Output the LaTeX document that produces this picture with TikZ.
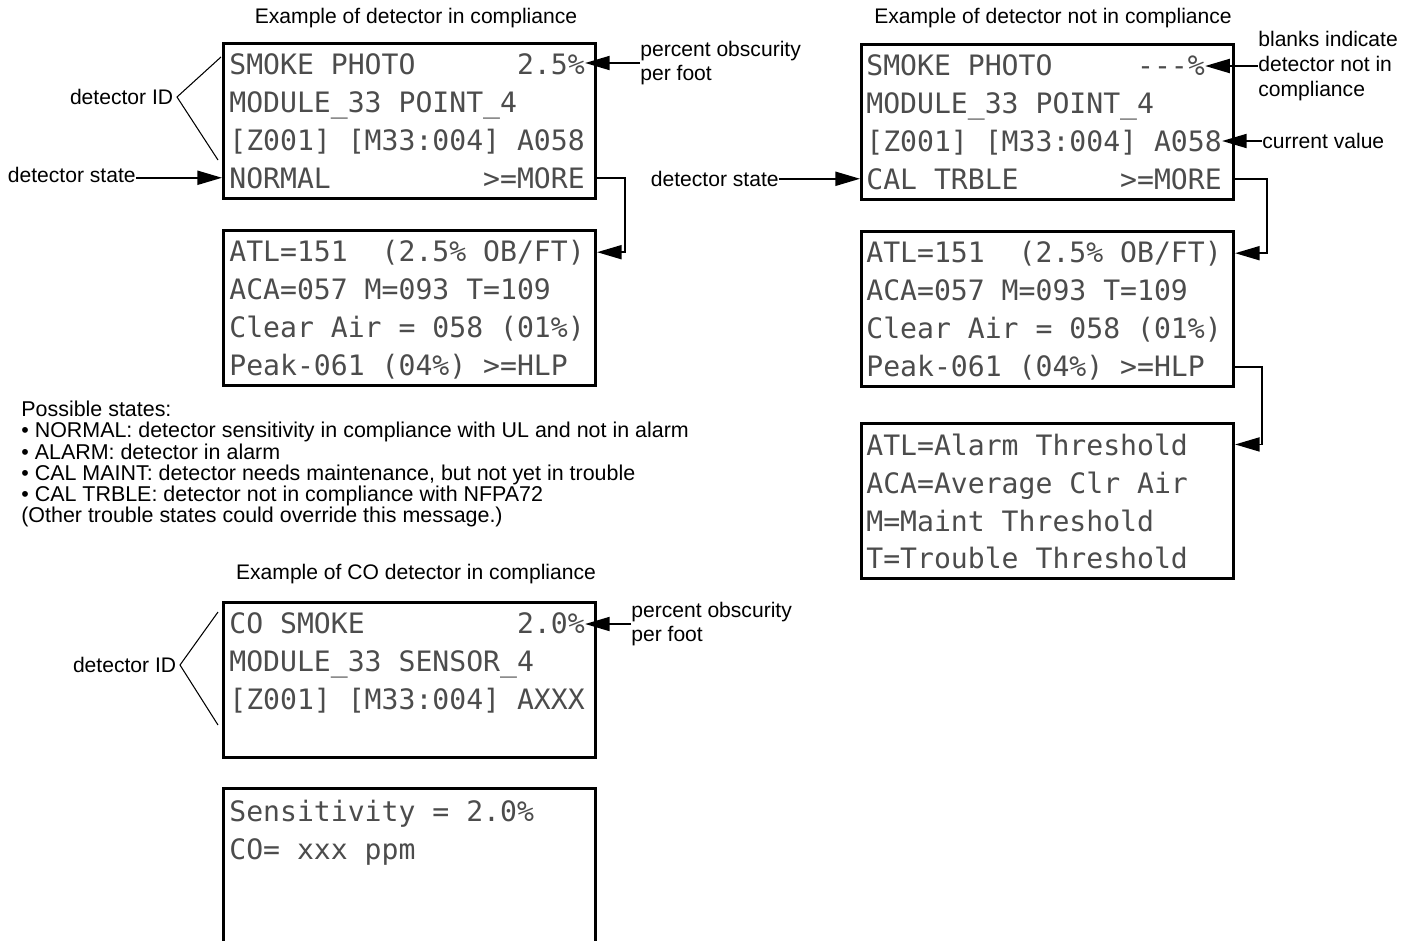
\documentclass[tikz,border=0pt]{standalone}
\usepackage{fontspec}
\setmainfont{Liberation Sans}
\newfontfamily\lcdfont{DejaVu Sans Mono}
\usetikzlibrary{arrows.meta}

\begin{document}
\begin{tikzpicture}[x=0.02cm,y=-0.02cm,
  screen/.style={draw,line width=1.8pt,anchor=north west,inner sep=0,minimum width=7.44cm,minimum height=3.1cm},
  lcd/.style={anchor=base west,inner sep=0,text=black!70,font=\lcdfont\fontsize{16}{16}\selectfont\frenchspacing},
  note/.style={inner sep=0,align=left,font=\fontsize{12}{13.5}\selectfont},
  link/.style={line width=1pt,-{Triangle[length=14pt,width=8pt]}},
  idline/.style={line width=0.6pt}]
  \useasboundingbox (0,0) rectangle (1420,940);
  \clip (0,0) rectangle (1420,940);

  % detector in compliance
  \node[note] (t1) at (416,18) {Example of detector in compliance};
  \node[screen] (s1) at (222,42) {};
  \node[lcd] (s1a) at (229,74) {SMOKE PHOTO~~~~~~2.5\%};
  \node[lcd] (s1b) at (229,112) {MODULE\_33 POINT\_4};
  \node[lcd] (s1c) at (229,150) {[Z001] [M33:004] A058};
  \node[lcd] (s1d) at (229,188) {NORMAL~~~~~~~~~>=MORE};
  \node[screen] (s2) at (222,229) {};
  \node[lcd] (s2a) at (229,261) {ATL=151~~(2.5\% OB/FT)};
  \node[lcd] (s2b) at (229,299) {ACA=057 M=093 T=109};
  \node[lcd] (s2c) at (229,337) {Clear Air = 058 (01\%)};
  \node[lcd] (s2d) at (229,375) {Peak-061 (04\%) >=HLP};

  \node[note,anchor=east,inner xsep=2pt] (id1) at (177,97) {detector ID};
  \node[note,anchor=east] (ds1) at (136,175) {detector state};
  \node[note,anchor=west] (pct1) at (640,63) {percent obscurity\\per foot};
  \draw[idline] (221,57) -- (id1.east) -- (218,160);
  \draw[link] (ds1.east |- s1d) -- (s1.west |- s1d);
  \draw[link] (pct1.west) -- (s1a.east |- pct1.west);
  \draw[link] (s1.east |- s1d) -- ++(28,0) |- (s2.east |- s2a);

  % detector not in compliance
  \node[note] (t3) at (1053,18) {Example of detector not in compliance};
  \node[screen] (s3) at (860,43) {};
  \node[lcd] (s3a) at (866,75) {SMOKE PHOTO~~~~~-{}-{}-\%};
  \node[lcd] (s3b) at (866,113) {MODULE\_33 POINT\_4};
  \node[lcd] (s3c) at (866,151) {[Z001] [M33:004] A058};
  \node[lcd] (s3d) at (866,189) {CAL TRBLE~~~~~~>=MORE};
  \node[screen] (s4) at (860,230) {};
  \node[lcd] (s4a) at (866,262) {ATL=151~~(2.5\% OB/FT)};
  \node[lcd] (s4b) at (866,300) {ACA=057 M=093 T=109};
  \node[lcd] (s4c) at (866,338) {Clear Air = 058 (01\%)};
  \node[lcd] (s4d) at (866,376) {Peak-061 (04\%) >=HLP};
  \node[screen] (s5) at (860,422) {};
  \node[lcd] (s5a) at (866,455) {ATL=Alarm Threshold};
  \node[lcd] (s5b) at (866,493) {ACA=Average Clr Air};
  \node[lcd] (s5c) at (866,531) {M=Maint Threshold};
  \node[lcd] (s5d) at (866,568) {T=Trouble Threshold};

  \node[note,anchor=east] (ds3) at (779,179) {detector state};
  \node[note,anchor=west,font=\fontsize{12}{14}\selectfont] (bl3) at (1258,66) {blanks indicate\\detector not in\\compliance};
  \node[note,anchor=west] (cur3) at (1262,141) {current value};
  \draw[link] (ds3.east |- s3d) -- (s3.west |- s3d);
  \draw[link] (bl3.west) -- (s3a.east |- bl3.west);
  \draw[link] (cur3.west) -- (s3c.east |- cur3.west);
  \draw[link] (s3.east |- s3d) -- ++(32,0) |- (s4.east |- s4a);
  \draw[link] (s4.east |- s4d) -- ++(27,0) |- (s5.east |- s5a);

  % list of states
  \node[note,anchor=north west,font=\fontsize{12.2}{12}\selectfont] (states) at (21,401)
    {Possible states:\\
     \textbullet{} NORMAL: detector sensitivity in compliance with UL and not in alarm\\
     \textbullet{} ALARM: detector in alarm\\
     \textbullet{} CAL MAINT: detector needs maintenance, but not yet in trouble\\
     \textbullet{} CAL TRBLE: detector not in compliance with NFPA72\\
     (Other trouble states could override this message.)};

  % CO detector
  \node[note] (t6) at (416,574) {Example of CO detector in compliance};
  \node[screen] (s6) at (222,601) {};
  \node[lcd] (s6a) at (229,633) {CO SMOKE~~~~~~~~~2.0\%};
  \node[lcd] (s6b) at (229,671) {MODULE\_33 SENSOR\_4};
  \node[lcd] (s6c) at (229,709) {[Z001] [M33:004] AXXX};
  \node[screen,minimum height=3.6cm] (s7) at (222,787) {};
  \node[lcd] (s7a) at (229,821) {Sensitivity = 2.0\%};
  \node[lcd] (s7b) at (229,859) {CO= xxx ppm};

  \node[note,anchor=east,inner xsep=2pt] (id6) at (180,665) {detector ID};
  \node[note,anchor=west] (pct6) at (631,624) {percent obscurity\\per foot};
  \draw[idline] (218,612) -- (id6.east) -- (218,725);
  \draw[link] (pct6.west) -- (s6a.east |- pct6.west);
\end{tikzpicture}
\end{document}
